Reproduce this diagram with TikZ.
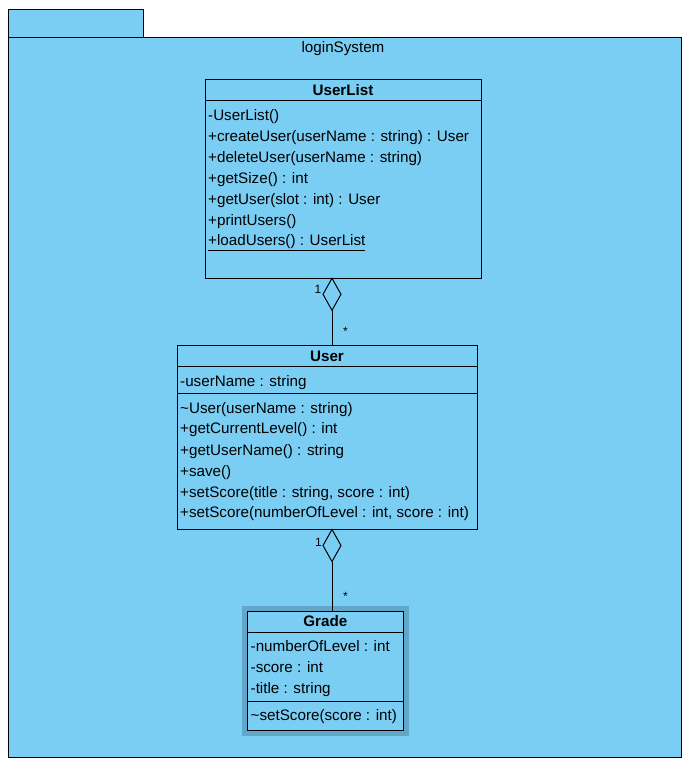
\documentclass[tikz,border=0pt]{standalone}
\usepackage{fontspec}
\setmainfont{Liberation Sans}
\usetikzlibrary{shapes.geometric}
\definecolor{vpblue}{RGB}{122,206,244}
\definecolor{vpsel}{RGB}{98,166,200}
\begin{document}
\begin{tikzpicture}[x=1pt,y=-1pt,
 box/.style={draw=black,line width=1pt,fill=vpblue,anchor=north west,inner sep=0pt,outer sep=0pt},
 txt/.style={anchor=base west,inner sep=0pt,font=\fontsize{15.2}{18}\selectfont},
 hdr/.style={anchor=base,inner sep=0pt,font=\fontsize{15.2}{18}\selectfont\bfseries},
 mult/.style={anchor=base,inner sep=0pt,font=\fontsize{12}{14}\selectfont},
 agg/.style={diamond,draw=black,line width=1pt,fill=vpblue,minimum width=18pt,minimum height=32pt,inner sep=0pt,outer sep=0pt,anchor=north},
 sep/.style={draw=black,line width=1pt},
 conn/.style={draw=black,line width=1pt}]
\useasboundingbox (0,0) rectangle (688,766);
\fill[white] (0,0) rectangle (688,766);
% package
\node[box,minimum width=135pt,minimum height=28pt] (tab) at (8,9) {};
\node[box,minimum width=673pt,minimum height=720pt] (pkg) at (8,37) {};
\node[txt,anchor=base] (pkgname) at (343,52) {loginSystem};
% UserList
\node[box,minimum width=276pt,minimum height=199pt] (userlist) at (205,79) {};
\draw[sep] (205,100) -- (481,100);
\node[hdr] (ulh) at (343,95) {UserList};
\node[txt] (ul1) at (208,120.7) {-UserList()};
\node[txt] (ul2) at (208,141.7) {+createUser(userName : string) : User};
\node[txt] (ul3) at (208,162.5) {+deleteUser(userName : string)};
\node[txt] (ul4) at (208,183.3) {+getSize() : int};
\node[txt] (ul5) at (208,204.2) {+getUser(slot : int) : User};
\node[txt] (ul6) at (208,225) {+printUsers()};
\node[txt] (ul7) at (208,245.8) {\underline{+loadUsers() : UserList}};
% User
\node[box,minimum width=300pt,minimum height=184pt] (user) at (177,345.5) {};
\draw[sep] (177,366) -- (477,366);
\draw[sep] (177,393) -- (477,393);
\node[hdr] (uh) at (327,361) {User};
\node[txt] (u0) at (180,386) {-userName : string};
\node[txt] (u1) at (180,413) {\textasciitilde User(userName : string)};
\node[txt] (u2) at (180,433.8) {+getCurrentLevel() : int};
\node[txt] (u3) at (180,455) {+getUserName() : string};
\node[txt] (u4) at (180,476) {+save()};
\node[txt] (u5) at (180,497) {+setScore(title : string, score : int)};
\node[txt] (u6) at (180,517.8) {+setScore(numberOfLevel : int, score : int)};
% Grade (selected)
\fill[vpsel] (242,606) rectangle (409,736);
\node[box,minimum width=156pt,minimum height=119pt] (grade) at (247.3,611) {};
\draw[sep] (247.3,632.3) -- (403.3,632.3);
\draw[sep] (247.3,701.7) -- (403.3,701.7);
\node[hdr] (gh) at (325.3,626.7) {Grade};
\node[txt] (g1) at (250.5,651.7) {-numberOfLevel : int};
\node[txt] (g2) at (250.5,672.4) {-score : int};
\node[txt] (g3) at (250.5,693.3) {-title : string};
\node[txt] (g4) at (250.5,720.7) {\textasciitilde setScore(score : int)};
% aggregations
\node[agg] (d1) at (332,278.3) {};
\draw[conn] (d1.south) -- (d1.south |- user.north);
\node[mult] (m1a) at (318,293) {1};
\node[mult] (m1b) at (345.5,335) {*};
\node[agg] (d2) at (332,529.5) {};
\draw[conn] (d2.south) -- (d2.south |- grade.north);
\node[mult] (m2a) at (318.5,546) {1};
\node[mult] (m2b) at (345.5,600) {*};
\end{tikzpicture}
\end{document}
